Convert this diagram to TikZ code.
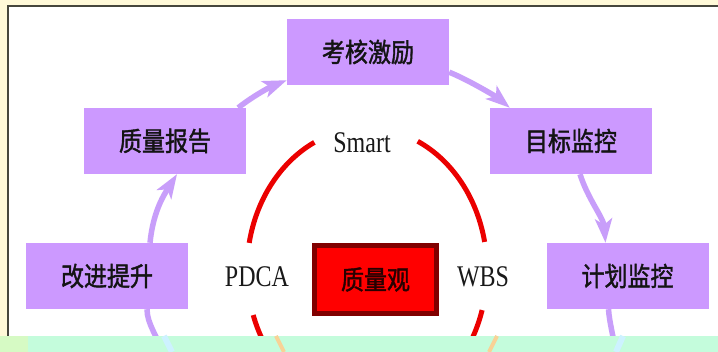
\documentclass[tikz,border=0pt]{standalone}
\usepackage{fontspec}
\setmainfont{Liberation Serif}
\newfontfamily\cjkfont{Noto Sans CJK SC}[FakeBold=1.6]
\usetikzlibrary{arrows.meta,calc}
\definecolor{boxpurple}{RGB}{204,153,255}
\definecolor{linepurple}{RGB}{200,158,250}
\definecolor{ringred}{RGB}{235,0,0}
\definecolor{darkred}{RGB}{128,0,0}
\definecolor{corered}{RGB}{255,0,0}
\definecolor{paleyellow}{RGB}{255,249,216}
\definecolor{framegray}{RGB}{70,70,60}
\definecolor{mint}{RGB}{196,252,220}
\definecolor{limegreen}{RGB}{214,250,196}
\definecolor{ghostcyan}{RGB}{205,242,255}
\definecolor{ghostorange}{RGB}{248,210,150}
\newcommand\cjktext[1]{\scalebox{1}[1.15]{\cjkfont\fontsize{23}{23}\selectfont #1}}
\newcommand\latintext[1]{\scalebox{1}[1.25]{\fontsize{24}{24}\selectfont #1}}
\begin{document}
\begin{tikzpicture}[x=1pt,y=-1pt,
  stepbox/.style={fill=boxpurple, minimum width=162pt, minimum height=66pt, inner sep=0pt, text=black!92},
  flow/.style={draw=linepurple, line width=5.5pt, -{Stealth[length=24pt,width=17pt,inset=6pt]}},
  plainflow/.style={draw=linepurple, line width=5.5pt},
  ring/.style={draw=ringred, line width=5pt},
  tagtext/.style={inner sep=0pt, text=black!90},
  corebox/.style={draw=darkred, line width=5pt, fill=corered, minimum width=122pt, minimum height=68pt, inner sep=0pt, text=black!85!red}
]
\useasboundingbox (0,0) rectangle (718,352);
\fill[white] (0,0) rectangle (718,352);
\fill[paleyellow] (0,0) rectangle (718,6);
\fill[paleyellow] (0,0) rectangle (8,352);
\draw[framegray, line width=2pt] (718,6.5) -- (8,6.5) -- (8,336);

% process boxes
\node[stepbox] (kao) at (368,52) {\cjktext{考核激励}};
\node[stepbox] (zhi) at (165,141) {\cjktext{质量报告}};
\node[stepbox] (mu) at (571,141) {\cjktext{目标监控}};
\node[stepbox] (gai) at (107,276) {\cjktext{改进提升}};
\node[stepbox] (ji) at (627.5,276) {\cjktext{计划监控}};

% connectors
\draw[flow] ([xshift=43pt]gai.north) .. controls +(3,-30) and +(-14,22) .. ([xshift=12pt]zhi.south);
\draw[flow] ([xshift=-8pt]zhi.north east) .. controls +(15,-12) and +(-15,6) .. ([yshift=5pt]kao.south west);
\draw[flow] ([yshift=13pt]kao.south east) .. controls +(20,8) and +(-12,-10) .. ([xshift=20pt]mu.north west);
\draw[flow] ([xshift=9pt]mu.south) .. controls +(8,25) and +(-2,-25) .. ([xshift=-22pt]ji.north);
\coordinate (gaiend) at (162,352);
\coordinate (jiend) at (615,352);
\draw[plainflow] ([xshift=40pt]gai.south) .. controls +(0,15) and +(-4,-15) .. (gaiend);
\draw[plainflow] ([xshift=-19pt]ji.south) .. controls +(1,15) and +(-1,-15) .. (jiend);

% red ring
\coordinate (rc) at (367,270);
\draw[ring] (rc) ++(295:120 and 142) arc[start angle=295,end angle=348.6,x radius=120,y radius=142];
\draw[ring] (rc) ++(16.4:120 and 142) arc[start angle=16.4,end angle=161.5,x radius=120,y radius=142];
\draw[ring] (rc) ++(191:120 and 142) arc[start angle=191,end angle=244,x radius=120,y radius=142];

\node[tagtext] (smart) at (362,143) {\latintext{Smart}};
\node[tagtext] (pdca) at (257,277) {\latintext{PDCA}};
\node[tagtext] (wbs) at (483,277) {\latintext{WBS}};

\node[corebox] (core) at (375.5,279.5) {\cjktext{质量观}};

% bottom strip
\fill[mint] (0,336) rectangle (718,352);
\fill[limegreen] (0,336) rectangle (28,352);
\draw[ghostcyan, line width=6pt] (164,336) -- (172,352);
\draw[ghostorange, line width=4pt] (276,336) -- (284,352);
\draw[ghostorange, line width=4pt] (497,336) -- (489,352);
\draw[ghostcyan, line width=6pt] (623,336) -- (616,352);
\end{tikzpicture}
\end{document}
